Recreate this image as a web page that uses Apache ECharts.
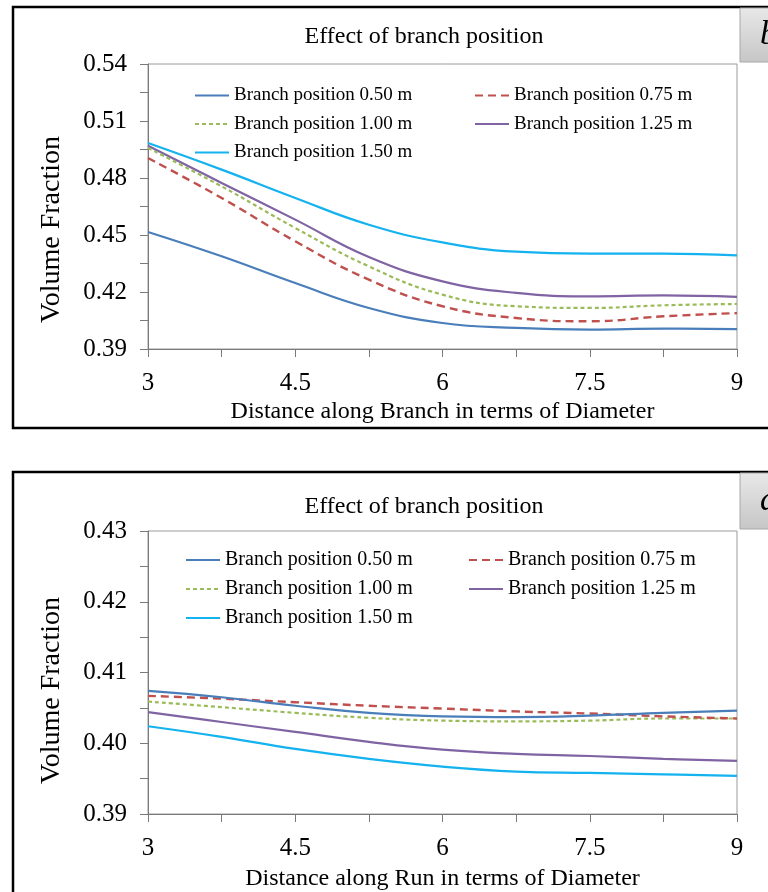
<!DOCTYPE html>
<html>
<head>
<meta charset="utf-8">
<script src="https://cdn.jsdelivr.net/npm/echarts@6/dist/echarts.min.js"></script>
<style>
  html, body { margin: 0; padding: 0; background: #ffffff; }
  #chart { width: 768px; height: 892px; }
</style>
</head>
<body>
<div id="chart"></div>
<script>
// Distance along pipe, in diameters
const distances = [3, 3.75, 4.5, 5.25, 6, 6.75, 7.5, 8.25, 9];

const seriesNames = [
  'Branch position 0.50 m',
  'Branch position 0.75 m',
  'Branch position 1.00 m',
  'Branch position 1.25 m',
  'Branch position 1.50 m'
];

// Volume fraction along the branch
const branchPos050 = [0.4516, 0.4388, 0.4247, 0.4116, 0.4037, 0.4011, 0.4002, 0.4007, 0.4005];
const branchPos075 = [0.4905, 0.4695, 0.4467, 0.4265, 0.4125, 0.4063, 0.4046, 0.4072, 0.4089];
const branchPos100 = [0.4958, 0.4756, 0.4537, 0.4335, 0.4186, 0.4125, 0.4116, 0.4130, 0.4137];
const branchPos125 = [0.4970, 0.4774, 0.4581, 0.4384, 0.4256, 0.4195, 0.4177, 0.4182, 0.4174];
const branchPos150 = [0.4984, 0.4844, 0.4695, 0.4554, 0.4461, 0.4412, 0.4402, 0.4402, 0.4393];

// Volume fraction along the run
const runPos050 = [0.4074, 0.4065, 0.4053, 0.4043, 0.4038, 0.4037, 0.4039, 0.4043, 0.4046];
const runPos075 = [0.4067, 0.4063, 0.4058, 0.4053, 0.4049, 0.4045, 0.4042, 0.4038, 0.4035];
const runPos100 = [0.4059, 0.4051, 0.4043, 0.4036, 0.4032, 0.4031, 0.4032, 0.4035, 0.4035];
const runPos125 = [0.4044, 0.4030, 0.4016, 0.4002, 0.3991, 0.3985, 0.3982, 0.3978, 0.3975];
const runPos150 = [0.4024, 0.4009, 0.3992, 0.3978, 0.3967, 0.3960, 0.3958, 0.3956, 0.3954];

const branchValues = [branchPos050, branchPos075, branchPos100, branchPos125, branchPos150];
const runValues = [runPos050, runPos075, runPos100, runPos125, runPos150];

const chartTitle = 'Effect of branch position';
const yAxisTitle = 'Volume Fraction';
const xTitleBranch = 'Distance along Branch in terms of Diameter';
const xTitleRun = 'Distance along Run in terms of Diameter';
const panelLetters = ['b', 'd'];

const FONT = '"Liberation Serif", "Times New Roman", serif';
const lineStyles = [
  { color: '#4a7ebb', width: 2.2, type: 'solid' },
  { color: '#c0504d', width: 2.4, type: [8, 5] },
  { color: '#9bbb59', width: 2.2, type: [4, 3] },
  { color: '#7f63a3', width: 2.2, type: 'solid' },
  { color: '#14b2ef', width: 2.2, type: 'solid' }
];

function pairs(values) {
  return values.map((v, i) => [distances[i], v]);
}

function xAxisFor(gridIndex, name, nameGap) {
  return {
    gridIndex, type: 'value', min: 3, max: 9, interval: 0.75,
    name, nameLocation: 'middle', nameGap,
    nameTextStyle: { fontFamily: FONT, fontSize: 24, color: '#000' },
    axisLine: { show: true, lineStyle: { color: '#7a7a7a', width: 1 } },
    axisTick: { show: true, inside: false, length: 8, lineStyle: { color: '#7a7a7a' } },
    axisLabel: {
      fontFamily: FONT, fontSize: 25, color: '#000', margin: 22,
      formatter: v => (Math.round(v / 0.75) % 2 === 0 ? String(+v.toFixed(2)) : '')
    },
    splitLine: { show: false }
  };
}

function yAxisFor(gridIndex, min, max, step, shiftDown) {
  return {
    gridIndex, type: 'value', min, max, interval: step,
    name: yAxisTitle, nameLocation: 'middle', nameGap: 82,
    nameTextStyle: { fontFamily: FONT, fontSize: 28, color: '#000', padding: [0, shiftDown * 2, 0, 0] },
    axisLine: { show: true, lineStyle: { color: '#7a7a7a', width: 1 } },
    axisTick: { show: true, inside: false, length: 8, lineStyle: { color: '#7a7a7a' } },
    axisLabel: {
      fontFamily: FONT, fontSize: 25, color: '#000', margin: 21,
      formatter: v => (Math.round((v - min) / step) % 2 === 0 ? v.toFixed(2) : '')
    },
    splitLine: { show: false }
  };
}

function legendsFor(topY, fontSize, gap, col1, col2) {
  const base = {
    orient: 'vertical', top: topY, padding: 0,
    itemWidth: 34, itemHeight: 1, itemGap: gap,
    itemStyle: { opacity: 0 },
    textStyle: { fontFamily: FONT, fontSize, color: '#000' },
    selectedMode: false
  };
  return [
    Object.assign({}, base, { left: col1, data: [seriesNames[0], seriesNames[2], seriesNames[4]] }),
    Object.assign({}, base, { left: col2, data: [seriesNames[1], seriesNames[3]] })
  ];
}

const series = [];
[branchValues, runValues].forEach((group, gi) => {
  group.forEach((vals, si) => {
    series.push({
      name: seriesNames[si], type: 'line', xAxisIndex: gi, yAxisIndex: gi,
      data: pairs(vals), smooth: 0.45, showSymbol: false, symbol: 'none',
      lineStyle: lineStyles[si], itemStyle: { color: lineStyles[si].color },
      z: 10 - si, animation: false
    });
  });
});

function panelFrame(y, h, letter, boxY, boxH) {
  return [
    { type: 'rect', shape: { x: 13, y, width: 820, height: h },
      style: { fill: 'none', stroke: '#000', lineWidth: 2.5 }, z: 1 },
    { type: 'rect', shape: { x: 740, y: boxY, width: 40, height: boxH },
      style: {
        fill: new echarts.graphic.LinearGradient(0, 0, 0, 1, [
          { offset: 0, color: '#e8e8e8' }, { offset: 1, color: '#c6c6c6' }
        ]),
        stroke: '#a8a8a8', lineWidth: 1
      }, z: 5 },
    { type: 'text', x: 760, y: boxY + boxH / 2, z: 6,
      style: { text: letter, font: 'italic 34px ' + FONT, fill: '#000', verticalAlign: 'middle' } }
  ];
}

const chart = echarts.init(document.getElementById('chart'), null, { renderer: 'canvas' });
chart.setOption({
  backgroundColor: '#ffffff',
  animation: false,
  title: [
    { text: chartTitle, left: 424, top: 25, textAlign: 'center', padding: 0,
      textStyle: { fontFamily: FONT, fontSize: 24, fontWeight: 'normal', color: '#000' } },
    { text: chartTitle, left: 424, top: 495, textAlign: 'center', padding: 0,
      textStyle: { fontFamily: FONT, fontSize: 24, fontWeight: 'normal', color: '#000' } }
  ],
  legend: legendsFor(86, 19, 9.5, 194, 474).concat(legendsFor(550, 20, 9, 185, 468)),
  grid: [
    { left: 148, top: 64, width: 589, height: 285, show: true, borderColor: '#9a9a9a', borderWidth: 1, backgroundColor: 'transparent' },
    { left: 148, top: 531, width: 589, height: 286, show: true, borderColor: '#9a9a9a', borderWidth: 1, backgroundColor: 'transparent' }
  ],
  xAxis: [xAxisFor(0, xTitleBranch, 51), xAxisFor(1, xTitleRun, 53)],
  yAxis: [yAxisFor(0, 0.39, 0.54, 0.015, 23), yAxisFor(1, 0.39, 0.43, 0.005, 18)],
  series,
  graphic: panelFrame(7, 421, panelLetters[0], 8, 54).concat(panelFrame(472, 500, panelLetters[1], 473, 56))
});
</script>
</body>
</html>
